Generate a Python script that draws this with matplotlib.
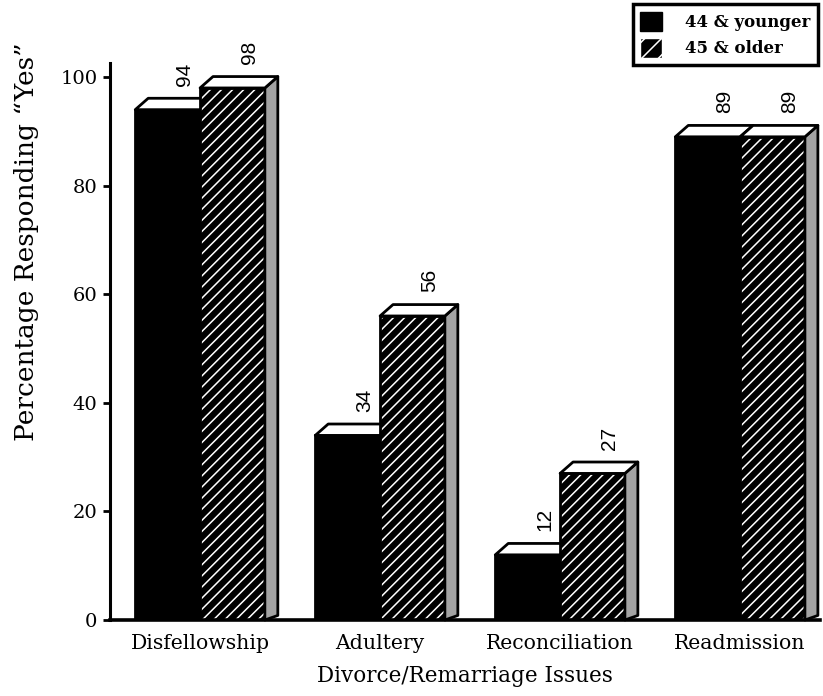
import matplotlib.pyplot as plt
from matplotlib.patches import Polygon, Rectangle, Patch
import numpy as np

# Survey results: percentage answering "Yes" by age group
issues = ["Disfellowship", "Adultery", "Reconciliation", "Readmission"]
younger = [94, 34, 12, 89]
older = [98, 56, 27, 89]
groups = ["44 & younger", "45 & older"]
yticks = [0, 20, 40, 60, 80, 100]

plt.rcParams["font.family"] = "DejaVu Serif"
plt.rcParams["hatch.linewidth"] = 1.1

fig = plt.figure(figsize=(8.23, 6.96), dpi=100)
ax = fig.add_axes([0.1337, 0.1092, 0.8627, 0.8003])

# bar geometry (pseudo 3D)
W = 0.36      # bar width
DX = 0.072    # depth, x units
DY = 2.1      # depth, y units
LW = 2.0


def top_face(x0, x1, h, z):
    ax.add_patch(Polygon([(x0, h), (x1, h), (x1 + DX, h + DY), (x0 + DX, h + DY)],
                         closed=True, facecolor="white", edgecolor="black",
                         lw=LW, joinstyle="round", zorder=z, clip_on=False))


def value_label(x1, h):
    ax.text(x1 - 0.085, h + DY + 2.3, str(h), rotation=90, ha="center", va="bottom",
            family="Liberation Sans", fontsize=15, clip_on=False)


x = np.arange(len(issues))

for i in range(len(issues)):
    # younger group: solid black, left of centre
    x0, x1 = x[i] - W, x[i]
    h = younger[i]
    z = 2 + i * 4
    ax.add_patch(Rectangle((x0, 0), W, h, facecolor="black", edgecolor="black",
                           lw=LW, zorder=z))
    top_face(x0, x1, h, z + 0.5)
    value_label(x1, h)

    # older group: black with white diagonal lines, right of centre
    x0, x1 = x[i], x[i] + W
    h = older[i]
    z = 4 + i * 4
    ax.add_patch(Rectangle((x0, 0), W, h, facecolor="black", edgecolor="white",
                           hatch="///", lw=0, zorder=z))
    ax.add_patch(Rectangle((x0, 0), W, h, fill=False, edgecolor="black",
                           lw=LW, zorder=z + 0.1))
    ax.add_patch(Polygon([(x1, 0), (x1 + DX, DY * 0.4), (x1 + DX, h + DY), (x1, h)],
                         closed=True, facecolor="#a3a3a3", edgecolor="black",
                         lw=LW, joinstyle="round", zorder=z + 0.2, clip_on=False))
    top_face(x0, x1, h, z + 0.5)
    value_label(x1, h)

ax.set_xlim(-0.5, 3.444)
ax.set_ylim(0, 102.6)

ax.set_yticks(yticks)
ax.set_xticks(x)
ax.set_xticklabels(issues, fontsize=14.7)
ax.tick_params(axis="y", direction="out", length=5, width=2, labelsize=14, pad=4)
ax.tick_params(axis="x", length=0, pad=10)

for s in ["top", "right"]:
    ax.spines[s].set_visible(False)
ax.spines["left"].set_linewidth(2.2)
ax.spines["bottom"].set_linewidth(2.6)
ax.spines["bottom"].set_zorder(30)

ax.set_ylabel("Percentage Responding \u201cYes\u201d", fontsize=19)
ax.yaxis.set_label_coords(-0.1, 0.68)
ax.set_xlabel("Divorce/Remarriage Issues", fontsize=15.5, labelpad=9)

handles = [
    Patch(facecolor="black", edgecolor="black"),
    Patch(facecolor="black", edgecolor="white", hatch="//"),
]
leg = fig.legend(handles, groups, loc="upper right",
                 bbox_to_anchor=(818 / 823, 1 - 4 / 696),
                 fancybox=False, framealpha=1, edgecolor="black",
                 prop={"weight": "bold", "size": 12},
                 handlelength=1.3, handleheight=1.4, handletextpad=1.4,
                 borderpad=0.45, labelspacing=0.45, borderaxespad=0)
leg.get_frame().set_linewidth(2.5)

fig.savefig("out.png", dpi=100)
